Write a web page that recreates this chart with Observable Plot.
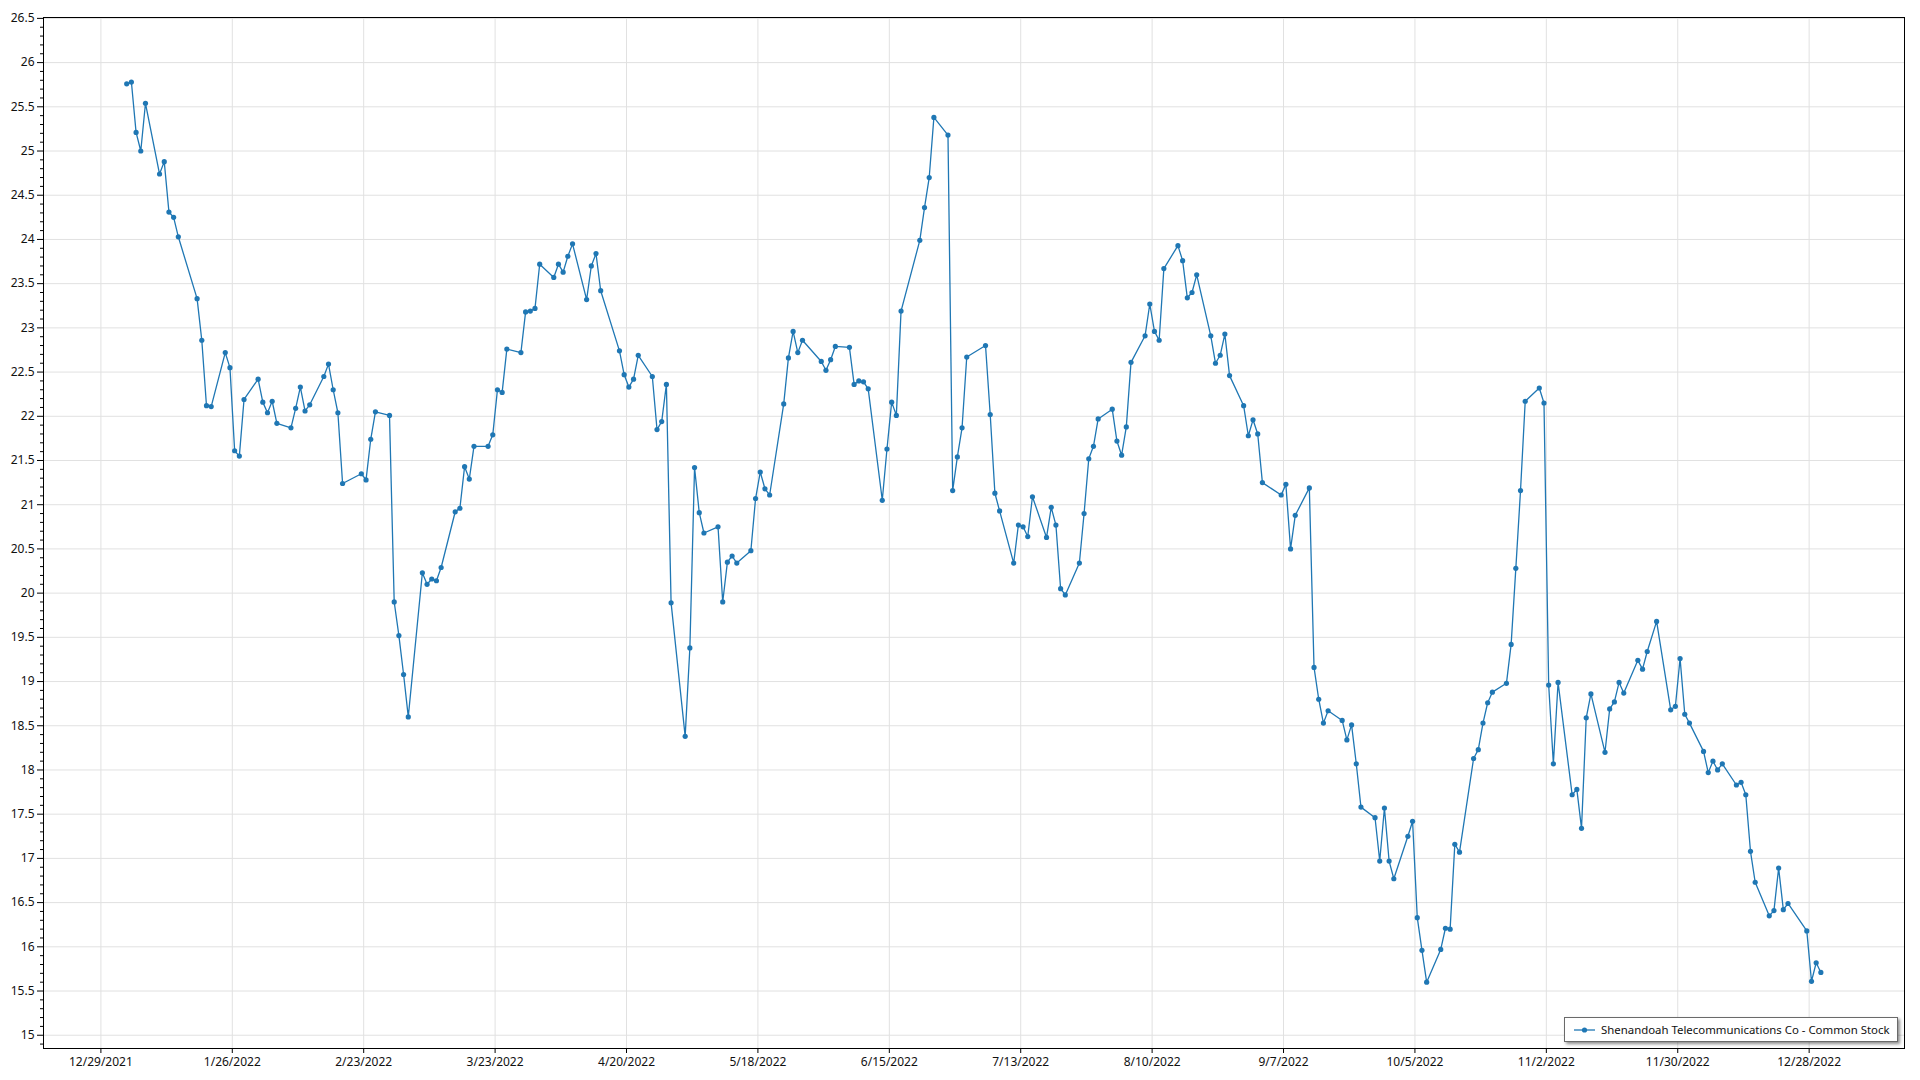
<!DOCTYPE html>
<html>
<head>
<meta charset="utf-8">
<script src="https://cdn.jsdelivr.net/npm/d3@7"></script>
<script src="https://cdn.jsdelivr.net/npm/@observablehq/plot@0.6"></script>
<style>
  html, body { margin: 0; padding: 0; background: #fff; }
  #wrap { position: relative; width: 1920px; height: 1080px; font-family: "Noto Sans", sans-serif; }
  #legend {
    position: absolute; left: 1564px; top: 1017px; width: 334px; height: 25px;
    box-sizing: border-box; background: #fff; border: 1px solid #6a6a6a;
    box-shadow: 2px 2px 3px rgba(0,0,0,0.45);
    display: flex; align-items: center; font-size: 11.4px; color: #111; white-space: nowrap;
  }
  #legend svg { margin-left: 9px; margin-right: 5px; }
</style>
</head>
<body>
<div id="wrap"></div>
<script>
// Series name
const seriesName = "Shenandoah Telecommunications Co - Common Stock";

// Trading dates (2022, MM-DD)
const tradingDates = [
  // Jan
  "01-03","01-04","01-05","01-06","01-07","01-10","01-11","01-12","01-13","01-14","01-18","01-19","01-20","01-21","01-24","01-25","01-26","01-27","01-28","01-31",
  // Feb
  "02-01","02-02","02-03","02-04","02-07","02-08","02-09","02-10","02-11","02-14","02-15","02-16","02-17","02-18","02-22","02-23","02-24","02-25","02-28",
  // Mar
  "03-01","03-02","03-03","03-04","03-07","03-08","03-09","03-10","03-11","03-14","03-15","03-16","03-17","03-18","03-21","03-22","03-23","03-24","03-25","03-28","03-29","03-30","03-31",
  // Apr
  "04-01","04-04","04-05","04-06","04-07","04-08","04-11","04-12","04-13","04-14","04-18","04-19","04-20","04-21","04-22","04-25","04-26","04-27","04-28","04-29",
  // May
  "05-02","05-03","05-04","05-05","05-06","05-09","05-10","05-11","05-12","05-13","05-16","05-17","05-18","05-19","05-20","05-23","05-24","05-25","05-26","05-27","05-31",
  // Jun
  "06-01","06-02","06-03","06-06","06-07","06-08","06-09","06-10","06-13","06-14","06-15","06-16","06-17","06-21","06-22","06-23","06-24","06-27","06-28","06-29","06-30",
  // Jul
  "07-01","07-05","07-06","07-07","07-08","07-11","07-12","07-13","07-14","07-15","07-18","07-19","07-20","07-21","07-22","07-25","07-26","07-27","07-28","07-29",
  // Aug
  "08-01","08-02","08-03","08-04","08-05","08-08","08-09","08-10","08-11","08-12","08-15","08-16","08-17","08-18","08-19","08-22","08-23","08-24","08-25","08-26","08-29","08-30","08-31",
  // Sep
  "09-01","09-02","09-06","09-07","09-08","09-09","09-12","09-13","09-14","09-15","09-16","09-19","09-20","09-21","09-22","09-23","09-26","09-27","09-28","09-29","09-30",
  // Oct
  "10-03","10-04","10-05","10-06","10-07","10-10","10-11","10-12","10-13","10-14","10-17","10-18","10-19","10-20","10-21","10-24","10-25","10-26","10-27","10-28","10-31",
  // Nov
  "11-01","11-02","11-03","11-04","11-07","11-08","11-09","11-10","11-11","11-14","11-15","11-16","11-17","11-18","11-21","11-22","11-23","11-25","11-28","11-29","11-30",
  // Dec
  "12-01","12-02","12-05","12-06","12-07","12-08","12-09","12-12","12-13","12-14","12-15","12-16","12-19","12-20","12-21","12-22","12-23","12-27","12-28","12-29","12-30"
];

// Closing prices
const closePrices = [
  // Jan
  25.76,25.78,25.21,25.00,25.54,24.74,24.88,24.31,24.25,24.03,23.33,22.86,22.12,22.11,22.72,22.55,21.61,21.55,22.19,22.42,
  // Feb
  22.16,22.04,22.17,21.92,21.87,22.09,22.33,22.06,22.13,22.45,22.59,22.30,22.04,21.24,21.35,21.28,21.74,22.05,22.01,
  // Mar
  19.90,19.52,19.08,18.60,20.23,20.10,20.16,20.14,20.29,20.92,20.96,21.43,21.29,21.66,21.66,21.79,22.30,22.27,22.76,22.72,23.18,23.19,23.22,
  // Apr
  23.72,23.57,23.72,23.63,23.81,23.95,23.32,23.70,23.84,23.42,22.74,22.47,22.33,22.42,22.69,22.45,21.85,21.94,22.36,19.89,
  // May
  18.38,19.38,21.42,20.91,20.68,20.75,19.90,20.35,20.42,20.34,20.48,21.07,21.37,21.18,21.11,22.14,22.66,22.96,22.72,22.86,22.62,
  // Jun
  22.52,22.64,22.79,22.78,22.36,22.40,22.39,22.31,21.05,21.63,22.16,22.01,23.19,23.99,24.36,24.70,25.38,25.18,21.16,21.54,21.87,
  // Jul
  22.67,22.80,22.02,21.13,20.93,20.34,20.77,20.75,20.64,21.09,20.63,20.97,20.77,20.05,19.98,20.34,20.90,21.52,21.66,21.97,
  // Aug
  22.08,21.72,21.56,21.88,22.61,22.91,23.27,22.96,22.86,23.67,23.93,23.76,23.34,23.40,23.60,22.91,22.60,22.69,22.93,22.46,22.12,21.78,21.96,
  // Sep
  21.80,21.25,21.11,21.23,20.50,20.88,21.19,19.16,18.80,18.53,18.67,18.56,18.34,18.51,18.07,17.58,17.46,16.97,17.57,16.97,16.77,
  // Oct
  17.25,17.42,16.33,15.96,15.60,15.97,16.21,16.20,17.16,17.07,18.13,18.23,18.53,18.76,18.88,18.98,19.42,20.28,21.16,22.17,22.32,
  // Nov
  22.15,18.96,18.07,18.99,17.72,17.78,17.34,18.59,18.86,18.20,18.69,18.77,18.99,18.87,19.24,19.14,19.34,19.68,18.68,18.72,19.26,
  // Dec
  18.63,18.53,18.21,17.97,18.10,18.00,18.07,17.83,17.86,17.72,17.08,16.73,16.35,16.41,16.89,16.42,16.49,16.18,15.61,15.82,15.71
];

// Axis tick values
const xTickLabels = ["12/29/2021","1/26/2022","2/23/2022","3/23/2022","4/20/2022","5/18/2022","6/15/2022","7/13/2022","8/10/2022","9/7/2022","10/5/2022","11/2/2022","11/30/2022","12/28/2022"];
const yTicks = [15,15.5,16,16.5,17,17.5,18,18.5,19,19.5,20,20.5,21,21.5,22,22.5,23,23.5,24,24.5,25,25.5,26,26.5];

const lineColor = "#1f77b4";

const parseMDY = s => { const [m, d, y] = s.split("/").map(Number); return new Date(y, m - 1, d); };
const xTicks = xTickLabels.map(parseMDY);
const fmt = d => `${d.getMonth() + 1}/${d.getDate()}/${d.getFullYear()}`;

const data = tradingDates.map((s, i) => {
  const [m, d] = s.split("-").map(Number);
  return { date: new Date(2022, m - 1, d, 12), price: closePrices[i] };
});

// minor y ticks every 0.1 between the labelled 0.5 steps
const yMinor = d3.range(149, 266).map(v => v / 10).filter(v => Math.abs(v * 2 - Math.round(v * 2)) > 1e-6);

const chart = Plot.plot({
  width: 1920,
  height: 1080,
  marginLeft: 43,
  marginRight: 16,
  marginTop: 17,
  marginBottom: 32,
  style: { fontFamily: "'Noto Sans', sans-serif", fontSize: "12px", color: "#111", background: "#fff" },
  x: { type: "time", domain: [new Date(2021, 11, 16, 18, 30), new Date(2023, 0, 17, 7, 40)], axis: null, label: null },
  y: { domain: [14.85, 26.51], axis: null, label: null },
  marks: [
    Plot.gridX(xTicks, { stroke: "#e1e1e1", strokeOpacity: 1 }),
    Plot.gridY(yTicks, { stroke: "#e1e1e1", strokeOpacity: 1 }),
    Plot.axisY(yMinor, { tickSize: 3, tickFormat: () => "", stroke: "#000", label: null }),
    Plot.axisY(yTicks, { tickSize: 6, tickPadding: 3, tickFormat: d => String(d), stroke: "#000", fill: "#111", fontSize: 12, label: null }),
    Plot.axisX(xTicks, { tickSize: 5, tickPadding: 4, tickFormat: fmt, stroke: "#000", fill: "#111", fontSize: 12, label: null }),
    Plot.line(data, { x: "date", y: "price", stroke: lineColor, strokeWidth: 1.3 }),
    Plot.dot(data, { x: "date", y: "price", r: 2.6, fill: lineColor, stroke: null }),
    Plot.frame({ stroke: "#000", strokeWidth: 1 })
  ]
});

const wrap = document.getElementById("wrap");
wrap.appendChild(chart);

// Legend
const legend = document.createElement("div");
legend.id = "legend";
legend.innerHTML = `<svg width="22" height="10"><line x1="0" y1="5" x2="21" y2="5" stroke="${lineColor}" stroke-width="1.3"/><circle cx="10.5" cy="5" r="2.6" fill="${lineColor}"/></svg><span></span>`;
legend.querySelector("span").textContent = seriesName;
wrap.appendChild(legend);
</script>
</body>
</html>
